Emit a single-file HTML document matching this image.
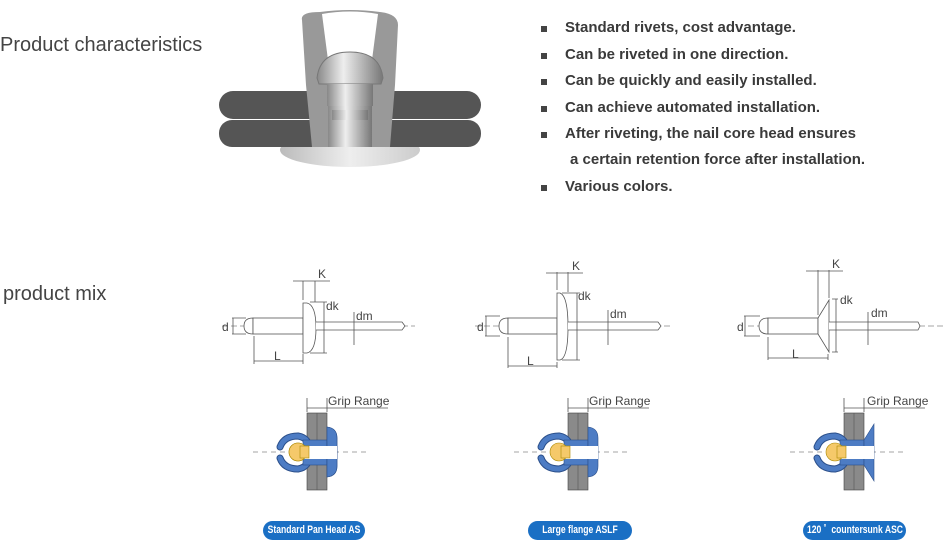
<!DOCTYPE html>
<html><head><style>
body{margin:0;width:950px;height:550px;background:#fff;overflow:hidden;position:relative;font-family:"Liberation Sans",sans-serif}
.h{position:absolute;color:#444;font-size:20px;white-space:nowrap}
ul{position:absolute;left:541px;top:18px;margin:0;padding:0;list-style:none}
li{font-weight:bold;font-size:15px;color:#3a3a3a;height:26.6px;line-height:20px;position:relative;padding-left:24px;white-space:nowrap}
li:before{content:"";position:absolute;left:0;top:8px;width:6px;height:6px;background:#444}
li.n:before{display:none}
.b{position:absolute;height:19px;background:#1a6fc4;border-radius:10px;color:#fff;font-weight:bold;font-size:11px;line-height:19px;white-space:nowrap}
.b span{position:absolute;left:50%;top:0;transform:translateX(-50%) scaleX(.78)}
</style></head><body>
<div class="h" style="left:0;top:34px">Product characteristics</div>
<div class="h" style="left:3px;top:283px">product mix</div>
<ul>
<li>Standard rivets, cost advantage.</li>
<li>Can be riveted in one direction.</li>
<li>Can be quickly and easily installed.</li>
<li>Can achieve automated installation.</li>
<li style="height:26px">After riveting, the nail core head ensures</li>
<li class="n" style="padding-left:29px">a certain retention force after installation.</li>
<li>Various colors.</li>
</ul>
<svg width="950" height="550" style="position:absolute;left:0;top:0" font-family="Liberation Sans" fill="none">
<defs><linearGradient id="m" x1="0" x2="1"><stop offset="0" stop-color="#888"/><stop offset=".4" stop-color="#eee"/><stop offset="1" stop-color="#777"/></linearGradient>
<linearGradient id="f" x1="0" x2="1"><stop offset="0" stop-color="#bbb"/><stop offset=".5" stop-color="#eee"/><stop offset="1" stop-color="#ccc"/></linearGradient></defs>
<ellipse cx="350" cy="150" rx="70" ry="17" fill="url(#f)"/>
<rect x="219" y="91" width="262" height="28" rx="14" fill="#555"/>
<rect x="219" y="120" width="262" height="27" rx="13" fill="#555"/>
<path d="M302 20 Q300 12 320 12 Q350 8 380 12 Q398 14 398 25 L395 85 L390 147 L312 147 L306 85Z" fill="#999"/>
<path d="M322 14 Q350 9 378 14 L372 60 L365 90 L335 90 L328 60Z" fill="#fff"/>
<rect x="328" y="90" width="44" height="57" fill="url(#m)"/>
<path d="M317 78 Q320 52 350 52 Q380 52 383 78 L381 84 L319 84Z" fill="url(#m)" stroke="#777" stroke-width="1"/>
<rect x="327" y="84" width="46" height="22" fill="url(#m)"/>
<rect x="332" y="110" width="36" height="10" fill="url(#m)"/>
<g stroke="#555" stroke-width="0.8" font-size="11" fill="none">
<line x1="222" y1="326" x2="415" y2="326" stroke-dasharray="6 3" stroke="#888"/>
<path d="M253 318 Q244 318 244 326 Q244 334 253 334Z" fill="#fff"/>
<rect x="253" y="318" width="50" height="16" fill="#fff"/>
<path d="M303 303 L307 303 Q316 305 316 328 Q316 351 307 353 L303 353Z" fill="#fff"/>
<path d="M316 322 L402 322 L405 326 L402 330 L316 330" fill="#fff"/>
<path d="M232 318 L246 318 M232 334 L246 334 M233 318 L233 334 M254 336 L254 364 M303 354 L303 364 M254 361 L303 361 M303 281 L303 300 M315 281 L315 302 M293 281 L330 281 M310 302 L327 302 M310 353 L327 353 M324 302 L324 353 M354 312 L354 345"/>
<line x1="475" y1="326" x2="672" y2="326" stroke-dasharray="6 3" stroke="#888"/>
<path d="M508 318 Q499 318 499 326 Q499 334 508 334Z" fill="#fff"/>
<rect x="508" y="318" width="49" height="16" fill="#fff"/>
<path d="M557 293 L560 293 Q568 296 568 327 Q568 358 560 360 L557 360Z" fill="#fff"/>
<path d="M568 322 L658 322 L661 326 L658 330 L568 330" fill="#fff"/>
<path d="M485 316 L500 316 M485 336 L500 336 M486 316 L486 336 M508 337 L508 368 M557 362 L557 368 M508 366 L557 366 M557 272 L557 290 M568 272 L568 292 M546 273 L583 273 M562 293 L580 293 M562 360 L580 360 M577 293 L577 360 M608 310 L608 345"/>
<line x1="748" y1="326" x2="945" y2="326" stroke-dasharray="6 3" stroke="#888"/>
<path d="M768 318 Q759 318 759 326 Q759 334 768 334Z" fill="#fff"/>
<rect x="768" y="318" width="50" height="16" fill="#fff"/>
<path d="M818 318 L829 300 L829 352 L818 334Z" fill="#fff"/>
<path d="M829 322 L918 322 L920 326 L918 330 L829 330" fill="#fff"/>
<path d="M744 316 L760 316 M744 336 L760 336 M745 316 L745 336 M768 337 L768 360 M828 354 L828 360 M768 358 L828 358 M818 270 L818 315 M829 270 L829 298 M806 271 L843 271 M832 299 L838 299 M832 352 L838 352 M836 299 L836 352 M868 312 L868 345"/>
</g>
<g font-size="12" fill="#444">
<text x="222" y="331">d</text><text x="274" y="360">L</text><text x="318" y="278">K</text><text x="326" y="310">dk</text><text x="356" y="320">dm</text>
<text x="477" y="331">d</text><text x="527" y="365">L</text><text x="572" y="270">K</text><text x="578" y="300">dk</text><text x="610" y="318">dm</text>
<text x="737" y="331">d</text><text x="792" y="358">L</text><text x="832" y="268">K</text><text x="840" y="304">dk</text><text x="871" y="317">dm</text>
<text x="328" y="405">Grip Range</text><text x="589" y="405">Grip Range</text><text x="867" y="405">Grip Range</text>
</g>
<g id="g0">
<line x1="253" y1="452" x2="370" y2="452" stroke="#888" stroke-dasharray="5 4" stroke-width=".8"/>
<path d="M307 398 L307 412 M327 398 L327 412 M307 408 L327 408 M327 408 L388 408" stroke="#555" stroke-width=".8"/>
<rect x="307" y="413" width="20" height="77" fill="#8a8a8a" stroke="#444" stroke-width=".6"/>
<line x1="317" y1="413" x2="317" y2="490" stroke="#555" stroke-width=".6"/>
<path d="M280 447 Q284 436 298 436 Q304 437 307 441" stroke="#2b4f8a" stroke-width="7" stroke-linecap="round"/>
<path d="M280 447 Q284 436 298 436 Q304 437 307 441" stroke="#4d7cc4" stroke-width="5" stroke-linecap="round"/>
<path d="M280 458 Q284 469 298 469 Q304 468 307 464" stroke="#2b4f8a" stroke-width="7" stroke-linecap="round"/>
<path d="M280 458 Q284 469 298 469 Q304 468 307 464" stroke="#4d7cc4" stroke-width="5" stroke-linecap="round"/>
<rect x="303" y="440" width="24" height="25" fill="#4d7cc4" stroke="#2b4f8a" stroke-width=".6"/>
</g>
<g id="h">
<path d="M327 427 Q337 428 337 438 L337 466 Q337 476 327 477Z" fill="#4d7cc4" stroke="#2b4f8a" stroke-width=".6"/>
</g>
<g id="c">
<rect x="303" y="446" width="34" height="13" fill="#fff"/>
<circle cx="298" cy="452" r="9" fill="#f5c96a" stroke="#a80" stroke-width=".6"/>
<rect x="300" y="446" width="9" height="12" fill="#f5c96a" stroke="#a80" stroke-width=".6"/>
</g>
<use href="#g0" transform="translate(261,0)"/>
<use href="#h" transform="translate(261,0)"/>
<use href="#c" transform="translate(261,0)"/>
<g transform="translate(537,0)">
<use href="#g0"/>
<path d="M327 440 L337 424 L337 481 L327 465Z" fill="#4d7cc4" stroke="#2b4f8a" stroke-width=".6"/>
<use href="#c"/>
</g>
<use href="#h"/>
<use href="#c"/>
</svg>
<div class="b" style="left:263px;top:521px;width:102px"><span>Standard Pan Head AS</span></div>
<div class="b" style="left:528px;top:521px;width:104px"><span>Large flange ASLF</span></div>
<div class="b" style="left:803px;top:521px;width:103px"><span>120 ˚ &nbsp;countersunk ASC</span></div>
</body></html>
